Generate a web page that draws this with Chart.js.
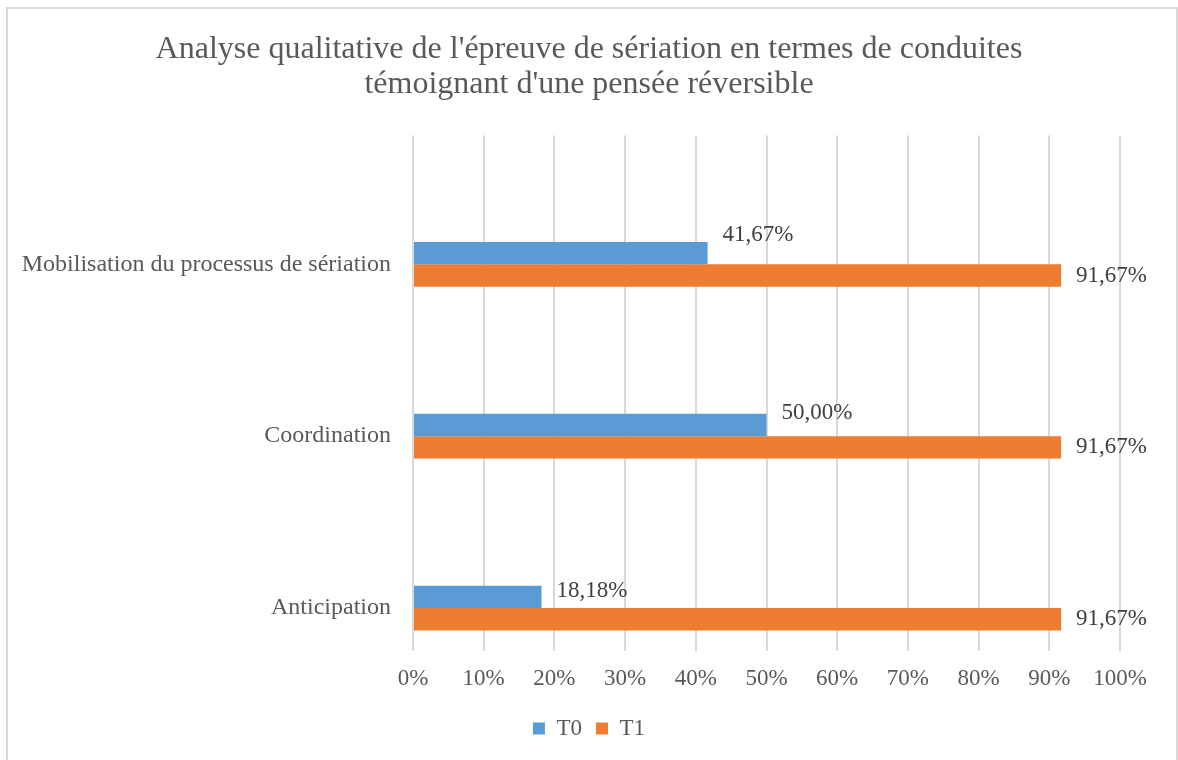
<!DOCTYPE html>
<html>
<head>
<meta charset="utf-8">
<script src="https://cdn.jsdelivr.net/npm/chart.js@4/dist/chart.umd.min.js"></script>
<style>
  body { margin: 0; background: #fff; }
  #wrap { position: absolute; left: 0; top: 0; width: 1178px; height: 760px; }
  #frame { position: absolute; left: 6px; top: 7px; width: 1168px; height: 800px; border: 2px solid #d9d9d9; pointer-events: none; }
</style>
</head>
<body>
<div id="wrap"><canvas id="myChart" width="1178" height="760"></canvas></div>
<div id="frame"></div>
<script>
const categories = ['Mobilisation du processus de sériation', 'Coordination', 'Anticipation'];
const seriesNames = ['T0', 'T1'];
const t0Values = [41.67, 50.00, 18.18];
const t1Values = [91.67, 91.67, 91.67];
const titleLines = ["Analyse qualitative de l'épreuve de sériation en termes de conduites", "témoignant d'une pensée réversible"];

const serif = "'Liberation Serif', 'Times New Roman', serif";

// vertical nudge of each value label (Excel moved the T0 ones up a bit)
const labelShift = [[-18, -12, -6], [0, 0, 0]];

function fmt(v) {
    return v.toFixed(2).replace('.', ',') + '%';
}

// the category axis is a linear one so the bands can sit where Excel put them
function toPoints(values) {
    return values.map(function (v, i) { return { x: v, y: i }; });
}

// draw the value labels next to each bar
const valueLabels = {
    id: 'valueLabels',
    afterDatasetsDraw(chart) {
        let ctx = chart.ctx;
        ctx.save();
        ctx.font = '23px ' + serif;
        ctx.fillStyle = '#404040';
        ctx.textAlign = 'left';
        ctx.textBaseline = 'middle';
        chart.data.datasets.forEach(function (ds, i) {
            let meta = chart.getDatasetMeta(i);
            meta.data.forEach(function (bar, j) {
                ctx.fillText(fmt(ds.data[j].x), bar.x + 15, bar.y + labelShift[i][j]);
            });
        });
        ctx.restore();
    }
};

let ctx = document.getElementById('myChart').getContext('2d');
let myChart = new Chart(ctx, {
    type: 'bar',
    data: {
        datasets: [
            { label: seriesNames[0], data: toPoints(t0Values), backgroundColor: '#5b9bd5' },
            { label: seriesNames[1], data: toPoints(t1Values), backgroundColor: '#ed7d31' }
        ]
    },
    options: {
        indexAxis: 'y',
        responsive: false,
        animation: false,
        categoryPercentage: 0.26,
        barPercentage: 1,
        layout: { padding: { top: 32, right: 0, bottom: 10, left: 0 } },
        scales: {
            x: {
                type: 'linear',
                min: 0,
                max: 100,
                ticks: {
                    stepSize: 10,
                    color: '#595959',
                    font: { family: serif, size: 23 },
                    padding: 14,
                    callback: function (v) { return v + '%'; }
                },
                grid: { color: '#d9d9d9', lineWidth: 2, tickLength: 0 },
                border: { display: false },
                afterFit: function (scale) { scale.height = 52; }
            },
            y: {
                type: 'linear',
                reverse: true,
                offset: false,
                min: -0.75,
                max: 2.25,
                afterBuildTicks: function (scale) {
                    scale.ticks = categories.map(function (c, i) { return { value: i }; });
                },
                ticks: {
                    color: '#595959',
                    font: { family: serif, size: 24 },
                    padding: 22,
                    callback: function (v) { return categories[v]; }
                },
                grid: { display: false, tickLength: 0 },
                border: { display: false },
                afterFit: function (scale) { scale.width = 413; }
            },
            // empty right-hand axis, keeps the plot clear of the right edge
            // while the title and legend stay centred on the whole frame
            yRight: {
                type: 'linear',
                position: 'right',
                display: true,
                ticks: { display: false },
                grid: { display: false, tickLength: 0 },
                border: { display: false },
                afterFit: function (scale) { scale.width = 58; }
            }
        },
        plugins: {
            title: {
                display: true,
                text: titleLines,
                color: '#595959',
                font: { family: serif, size: 32, weight: 'normal', lineHeight: 1.1 },
                padding: { top: 0, bottom: 33 }
            },
            legend: {
                position: 'bottom',
                labels: {
                    color: '#595959',
                    font: { family: serif, size: 23 },
                    boxWidth: 12,
                    boxHeight: 12,
                    padding: 14
                }
            },
            tooltip: { enabled: false }
        }
    },
    plugins: [valueLabels]
});
</script>
</body>
</html>
